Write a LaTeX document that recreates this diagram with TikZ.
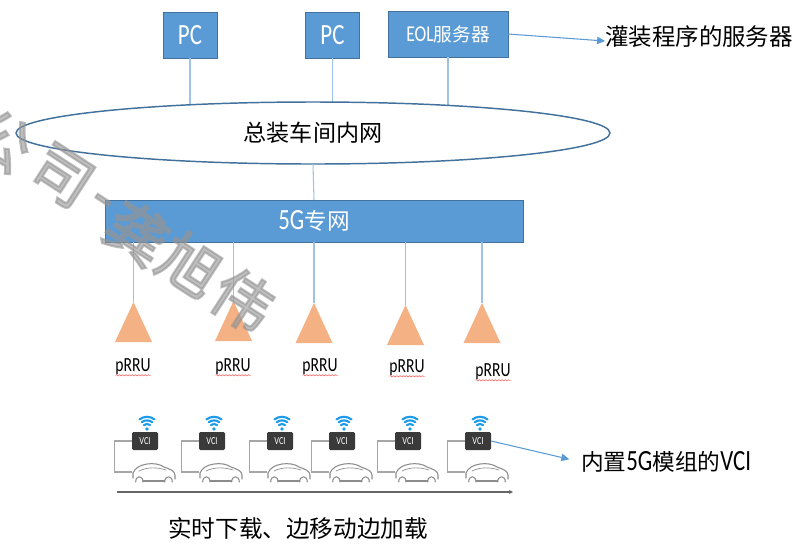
\documentclass[tikz,border=0pt]{standalone}
\usepackage{fontspec}
\usetikzlibrary{arrows.meta,decorations.pathmorphing,shapes.geometric}

\newfontfamily\lfont[FakeStretch=0.78]{Carlito}
\newfontfamily\hfont{Noto Sans CJK SC}
\newfontfamily\wmfont[FakeBold=3.5]{Noto Sans CJK SC}
\newcommand\setfs[1]{\fontsize{#1}{#1}\selectfont}

\definecolor{boxblue}{HTML}{5B9BD5}
\definecolor{edgeblue}{HTML}{41719C}
\definecolor{linkblue}{HTML}{9DC3E6}
\definecolor{antenna}{HTML}{F4B183}
\definecolor{wifiblue}{HTML}{1E9BE8}
\definecolor{vcidark}{HTML}{3A3A3A}
\definecolor{wiregray}{HTML}{A6A6A6}
\definecolor{cargray}{HTML}{8C8C8C}

\tikzset{
  bluebox/.style={draw=edgeblue, line width=0.75pt, fill=boxblue, text=white,
    inner sep=0pt, outer sep=0pt},
  link/.style={draw=linkblue, line width=0.8pt},
  callout/.style={draw=boxblue, line width=0.8pt,
    -{Triangle[length=6pt,width=5.5pt]}},
  timeline/.style={draw=black!60, line width=1.1pt,
    -{Stealth[length=3pt,width=3pt]}},
  label/.style={inner sep=0pt, outer sep=0pt, text=black},
  vcibox/.style={fill=vcidark, rounded corners=1pt, minimum width=19.5pt,
    minimum height=13.5pt, inner sep=0pt, text=white,
    font=\lfont\setfs{8}},
  wire/.style={draw=wiregray, line width=0.8pt},
  squiggle/.style={draw=red!70, line width=0.35pt, decorate,
    decoration={snake, amplitude=0.5pt, segment length=2.4pt}},
  wmglyph/.style={text=black!42, opacity=0.6, rotate=-33, inner sep=0pt,
    font=\wmfont\setfs{45}},
  wifi/.pic={
    \fill[wifiblue] (0,0) circle[radius=1.8];
    \foreach \r in {5,8.6,12.2}
      \draw[wifiblue, line width=1.6pt, line cap=round]
        (0,0) ++(232:\r) arc[start angle=232, end angle=308, radius=\r];
  },
  car/.pic={
    \begin{scope}[cargray, line width=0.8pt, line cap=round, line join=round]
      \draw (0,15) -- (0,10) .. controls (2,5) and (7,2) .. (14,1)
            .. controls (20,0) and (27,1) .. (31,4)
            .. controls (37,6) and (42,8) .. (42,12) -- (42,16);
      \draw (2.7,19) .. controls (2.7,12) and (10,12) .. (10,19);
      \draw (31.7,19) .. controls (31.7,12) and (39.3,12) .. (39.3,19);
      \draw (10,18) -- (31.7,18);
      \draw[line width=0.5pt] (6,8) .. controls (14,4) and (24,4) .. (33,7);
    \end{scope}
  }
}

\begin{document}
\begin{tikzpicture}[x=0.75pt,y=-0.75pt]
\useasboundingbox (0,0) rectangle (795,544);

% top row: PCs and the EOL server
\node[bluebox, minimum width=40.5pt, minimum height=34.5pt] (pc1) at (190,35)
  {\lfont\setfs{22}PC};
\node[bluebox, minimum width=40.5pt, minimum height=34.5pt] (pc2) at (332.5,35)
  {\lfont\setfs{22}PC};
\node[bluebox, minimum width=90pt, minimum height=34.5pt] (eol) at (448,34)
  {{\lfont\setfs{17}EOL}{\hfont\setfs{14}服务器}};
\node[label, anchor=center] (srvnote) at (699,37)
  {\hfont\setfs{17.6}灌装程序的服务器};
\draw[callout] (eol.east) -- ([yshift=-3pt]srvnote.west);

% links into the LAN, drawn first so the ellipse covers their ends
\coordinate (lanc) at (313,133);
\draw[link] (pc1.south) -- (pc1.south |- lanc);
\draw[link] (pc2.south) -- (pc2.south |- lanc);
\draw[link] (eol.south) -- (eol.south |- lanc);

% workshop LAN and 5G private network
\node[ellipse, draw=edgeblue, line width=1.1pt, fill=white, inner sep=0pt,
      outer sep=0pt, minimum width=445.5pt, minimum height=46.5pt] (lan) at (lanc)
  {\hfont\setfs{17.3}总装车间内网};
\node[bluebox, minimum width=313.5pt, minimum height=31.5pt] (bar) at (314,221)
  {{\lfont\setfs{22}5G}{\hfont\setfs{17}专网}};
\draw[link] (lan.south) -- (bar.north);

% pRRU antennas
\foreach \ax/\ay/\lx/\ly [count=\i] in
  {133.5/302/133/367, 233.5/301/233/367, 314/303/320/367,
   405.5/305/407/368, 482/303/493/372} {
  \coordinate (a\i) at (\ax,\ay);
  \draw[link] (bar.south -| a\i) -- (a\i);
  \fill[antenna] (a\i) -- ++(18.5,40) -- ++(-37,0) -- cycle;
  \node[label] (l\i) at (\lx,\ly) {\lfont\setfs{15}pRRU};
  \draw[squiggle] ([yshift=-2.6pt]l\i.base west) -- ([yshift=-2.6pt]l\i.base east);
}

% vehicles with VCI units
\foreach \x [count=\i] in {132,199,267,329,395,465} {
  \node[vcibox] (vci\i) at (\x+13,441) {VCI};
  \coordinate (wf\i) at (\x+15,429);
  \pic at (wf\i) {wifi};
  \coordinate (car\i) at (\x+1,463);
  \pic at (car\i) {car};
  \coordinate (carin\i) at (\x,472);
  \draw[wire] (vci\i.west) -- ++(-17,0) |- (carin\i);
}

% production line direction
\coordinate (t0) at (117,492);
\coordinate (t1) at (513,492);
\draw[timeline] (t0) -- (t1);

\node[label, anchor=west] (vcinote) at (581,462)
  {{\hfont\setfs{17}内置}{\lfont\setfs{22}5G}{\hfont\setfs{17}模组的}{\lfont\setfs{22}VCI}};
\draw[callout, shorten >=9pt] (vci6.east) -- (vcinote.west);

\node[label] (caption) at (298,528)
  {\hfont\setfs{17.7}实时下载、边移动边加载};

% watermark
\foreach \ch/\px/\py [count=\k] in
  {公/2/140, 司/62/176, -/99/206, 龚/137/233, 旭/190/265, 伟/243/300}
  \node[wmglyph] (wm\k) at (\px,\py) {\ch};
\end{tikzpicture}
\end{document}
